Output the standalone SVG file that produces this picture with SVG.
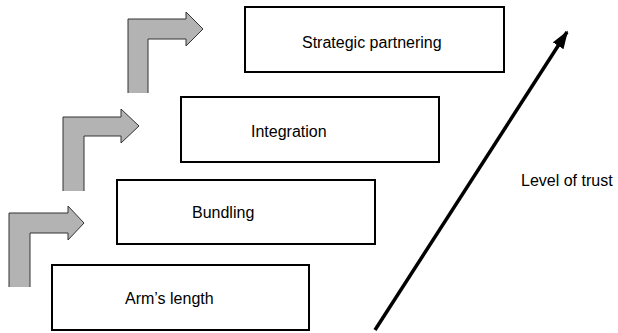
<svg xmlns="http://www.w3.org/2000/svg" width="618" height="333" viewBox="0 0 618 333">
  <defs>
    <style>
      .box { fill: #ffffff; stroke: #000000; stroke-width: 2; }
      .label { font-family: "Liberation Sans", Arial, sans-serif; font-size: 16px; fill: #000000; }
      .step-fill { fill: #b3b3b3; stroke: none; }
      .step-edge { fill: none; stroke: #333333; stroke-width: 1; stroke-linejoin: miter; }
      .trust { stroke: #000000; stroke-width: 3.5; fill: none; }
    </style>
    <marker id="head" viewBox="0 0 10 7" refX="9" refY="3.5" markerWidth="5.2" markerHeight="3.64" markerUnits="strokeWidth" orient="auto">
      <path d="M0,0 L10,3.5 L0,7 Z" fill="#000000"/>
    </marker>
  </defs>

  <rect width="618" height="333" fill="#ffffff"/>

  <!-- bent step arrows -->
  <g id="step-1">
    <polygon class="step-fill" points="9,287 9,213 68,213 68,206 84,223 68,240 68,233 30,233 30,287"/>
    <polyline class="step-edge" points="9,287 9,213 68,213 68,206 84,223 68,240 68,233 30,233 30,287"/>
  </g>
  <g id="step-2">
    <polygon class="step-fill" points="63,191 63,117 121,117 121,109 139,126 121,143 121,136 84,136 84,191"/>
    <polyline class="step-edge" points="63,191 63,117 121,117 121,109 139,126 121,143 121,136 84,136 84,191"/>
  </g>
  <g id="step-3">
    <polygon class="step-fill" points="128,93 128,19 186,19 186,12 203,29 186,46 186,39 148,39 148,93"/>
    <polyline class="step-edge" points="128,93 128,19 186,19 186,12 203,29 186,46 186,39 148,39 148,93"/>
  </g>

  <!-- stages -->
  <g id="arms-length">
    <rect class="box" x="52" y="265" width="257" height="65"/>
    <text class="label" x="125" y="304">Arm’s length</text>
  </g>
  <g id="bundling">
    <rect class="box" x="117" y="180" width="258" height="64"/>
    <text class="label" x="192" y="218">Bundling</text>
  </g>
  <g id="integration">
    <rect class="box" x="181" y="97" width="258" height="65"/>
    <text class="label" x="251" y="137">Integration</text>
  </g>
  <g id="strategic-partnering">
    <rect class="box" x="245" y="7" width="259" height="65"/>
    <text class="label" x="302" y="48">Strategic partnering</text>
  </g>

  <!-- trust axis -->
  <g id="connectors">
    <line class="trust" x1="375" y1="330" x2="567" y2="32" marker-end="url(#head)"/>
  </g>
  <g id="trust-label">
    <text class="label" x="521" y="186">Level of trust</text>
  </g>
</svg>
